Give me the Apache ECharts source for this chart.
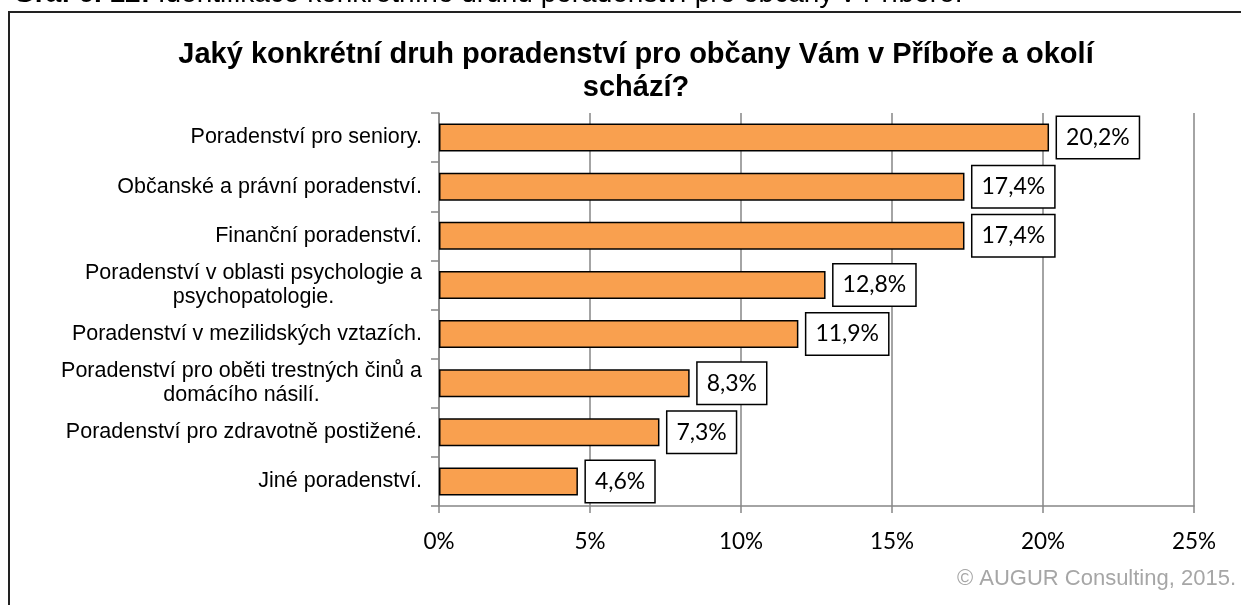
<!DOCTYPE html>
<html>
<head>
<meta charset="utf-8">
<script src="https://cdn.jsdelivr.net/npm/echarts@6/dist/echarts.min.js"></script>
<style>
  html, body { margin: 0; padding: 0; background: #fff; }
  #chart { width: 1241px; height: 605px; }
</style>
</head>
<body>
<div id="chart"></div>
<script>
// data (top to bottom as in the picture)
const categories = [
  'Poradenství pro seniory.',
  'Občanské a právní poradenství.',
  'Finanční poradenství.',
  'Poradenství v oblasti psychologie a\npsychopatologie.',
  'Poradenství v mezilidských vztazích.',
  'Poradenství pro oběti trestných činů a\ndomácího násilí.',
  'Poradenství pro zdravotně postižené.',
  'Jiné poradenství.'
]
const values = [20.2, 17.4, 17.4, 12.8, 11.9, 8.3, 7.3, 4.6]
const xTicks = [0, 5, 10, 15, 20, 25]

const chart = echarts.init(document.getElementById('chart'))

const option = {
  animation: false,
  title: {
    text: 'Jaký konkrétní druh poradenství pro občany Vám v Příboře a okolí\nschází?',
    left: 631,
    top: 33,
    textAlign: 'center',
    textStyle: {
      fontFamily: 'Liberation Sans',
      fontWeight: 'bold',
      fontSize: 29,
      lineHeight: 33,
      color: '#000',
    },
  },
  graphic: [
    {
      type: 'rect',
      shape: { x: 9, y: 12, width: 1260, height: 620 },
      style: { fill: 'none', stroke: '#222', lineWidth: 2 },
      z: -1,
    },
    {
      // caption cut off by the top edge
      type: 'text',
      left: 13,
      top: -20,
      style: {
        text: '{b|Graf 6. 12:} Identifikace konkrétního druhu poradenství pro občany v Příboře.',
        fontFamily: 'Liberation Sans',
        fontSize: 28,
        fill: '#000',
        rich: { b: { fontWeight: 'bold', fontSize: 28, fontFamily: 'Liberation Sans' } },
      },
    },
    {
      type: 'text',
      right: 5,
      top: 568,
      style: {
        text: '© AUGUR Consulting, 2015.',
        fontFamily: 'Liberation Sans',
        fontSize: 22,
        fill: '#a6a6a6',
      },
    },
  ],
  grid: {
    left: 439,
    right: 47,
    top: 113,
    bottom: 99,
  },
  xAxis: {
    type: 'value',
    min: 0,
    max: 25,
    interval: 5,
    axisLine: { show: true, lineStyle: { color: '#868686', width: 1.5 } },
    axisTick: { show: true, length: 7, lineStyle: { color: '#868686', width: 1.5 } },
    splitLine: { show: true, lineStyle: { color: '#868686', width: 1.5 } },
    axisLabel: {
      margin: 24,
      fontFamily: 'Lato',
      fontSize: 22.5,
      color: '#000',
      formatter: (v) => (xTicks.includes(v) ? v + '%' : ''),
    },
  },
  yAxis: {
    type: 'category',
    inverse: true,
    data: categories,
    axisLine: { show: true, lineStyle: { color: '#868686', width: 1.5 } },
    axisTick: { show: true, length: 8, lineStyle: { color: '#868686', width: 1.5 } },
    axisLabel: {
      margin: 17,
      color: '#000',
      fontFamily: 'Liberation Sans',
      fontSize: 21.5,
      lineHeight: 24,
      formatter: (v) => v.split('\n').map((s) => '{a|' + s + '}').join('\n'),
      rich: {
        a: { align: 'center', fontFamily: 'Liberation Sans', fontSize: 21.5, lineHeight: 24, color: '#000' },
      },
    },
  },
  series: [
    {
      type: 'bar',
      data: values,
      barWidth: 28,
      itemStyle: {
        color: '#F9A04F',
        borderColor: '#000',
        borderWidth: 1.5,
      },
      label: {
        show: true,
        position: 'right',
        distance: 8,
        formatter: (p) => p.value.toFixed(1).replace('.', ',') + '%',
        fontFamily: 'Lato',
        fontSize: 23,
        lineHeight: 23,
        color: '#000',
        backgroundColor: '#fff',
        borderColor: '#000',
        borderWidth: 1.5,
        padding: [10, 9, 8, 9],
      },
    },
  ],
}

chart.setOption(option)
</script>
</body>
</html>
